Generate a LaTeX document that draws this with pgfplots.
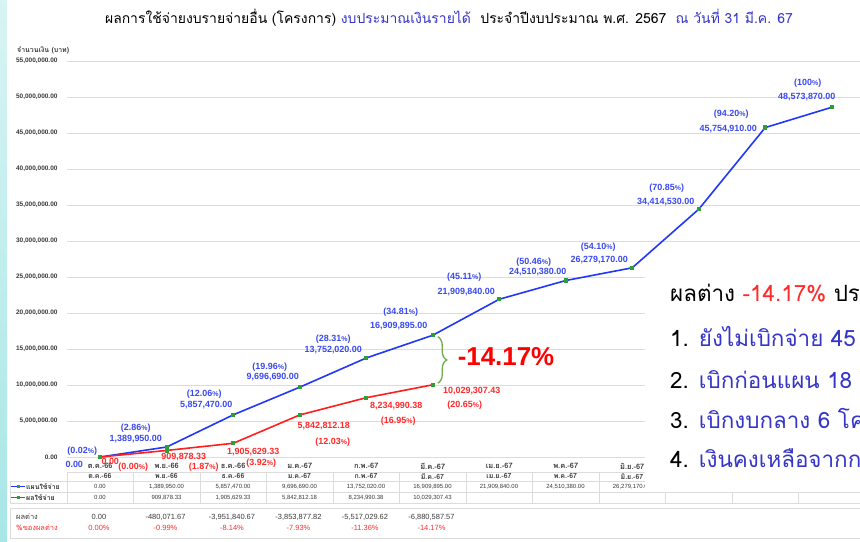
\documentclass[border=0pt]{standalone}
\usepackage{pgfplots}
\pgfplotsset{compat=1.18}
\usepackage{pgfplotstable}
\usepackage{fontspec}
\setmainfont{Liberation Sans}
\newfontfamily\thai[Script=Thai]{Loma}
\usetikzlibrary{decorations.pathreplacing}
\definecolor{pblue}{HTML}{2238F8}
\definecolor{lblue}{HTML}{3A4AEF}
\definecolor{pred}{HTML}{FF1E1E}
\definecolor{lred}{HTML}{FF2B2B}
\definecolor{mgreen}{HTML}{2E9E3A}
\definecolor{bgreen}{HTML}{70AD47}
\definecolor{tblue}{HTML}{3535C8}
\definecolor{gridc}{HTML}{DCDCDC}
\definecolor{txt}{HTML}{3A3A3A}
\definecolor{stripA}{HTML}{D8F4F4}
\definecolor{stripB}{HTML}{A8E6E6}
\newcommand\fs[1]{\fontsize{#1}{#1}\selectfont}

% plan (blue): x, value, percent label, value label, offsets (bp) of the two labels
\pgfplotstableread{
x y pct lab pdx pdy vdx vdy
0 0 0.02 0.00 -18 6 -26 -7
1 1389950 2.86 1,389,950.00 -31 19 -31 8
2 5857470 12.06 5,857,470.00 -29 21 -27 10
3 9696690 19.96 9,696,690.00 -30 20 -27 10
4 13752020 28.31 13,752,020.00 -33 19 -33 8
5 16909895 34.81 16,909,895.00 -32 23 -34 9
6 21909840 45.11 21,909,840.00 -35 22 -33 7
7 24510380 50.46 24,510,380.00 -32 18 -28 8
8 26279170 54.10 26,279,170.00 -34 21 -33 8
9 34414530 70.85 34,414,530.00 -32 21 -33 7
10 45754910 94.20 45,754,910.00 -34 13 -37 -1
11 48573870 100 48,573,870.00 -24 24 -25 10
}\plandata

% actual (red)
\pgfplotstableread{
x y pct lab pdx pdy vdx vdy
0 0 0.00 0.00 33 -10 10 -4
1 909878.33 1.87 909,878.33 37 -17 17 -7
2 1905629.33 3.92 1,905,629.33 28 -20 20 -9
3 5842812.18 12.03 5,842,812.18 33 -27 24 -11
4 8234990.38 16.95 8,234,990.38 32 -23 30 -8
5 10029307.43 20.65 10,029,307.43 32 -20 39 -6
}\actdata

\begin{document}
\begin{tikzpicture}
\useasboundingbox (0,0) rectangle (860bp,542bp);
\clip (0,0) rectangle (860bp,542bp);
\fill[white] (0,0) rectangle (860bp,542bp);
\begin{scope}[x=1bp,y=-1bp,shift={(0bp,542bp)}]
  \shade[top color=stripA, bottom color=stripB] (0,0) rectangle (7,542);
  \node[font=\thai\fs{14}, text=black] at (449,18)
    {ผลการใช้จ่ายงบรายจ่ายอื่น (โครงการ) \textcolor{tblue}{งบประมาณเงินรายได้}\ \ ประจำปีงบประมาณ พ.ศ. 2567\ \ \textcolor{tblue}{ณ วันที่ 31 มี.ค. 67}};
  \node[anchor=west, font=\thai\fs{7}\bfseries, text=txt, inner sep=0pt] at (17,50) {จำนวนเงิน (บาท)};
\end{scope}

\begin{axis}[
  at={(67bp,85bp)}, anchor=south west,
  width=798bp, height=396bp, scale only axis,
  xmin=-0.5, xmax=11.5, ymin=0, ymax=55000000,
  axis line style={draw=none},
  major tick length=0pt,
  ymajorgrids, grid style={gridc, line width=0.9bp},
  ytick={0,5000000,10000000,15000000,20000000,25000000,30000000,35000000,40000000,45000000,50000000,55000000},
  scaled y ticks=false,
  /pgf/number format/assume math mode=true,
  yticklabel={\pgfmathprintnumber[fixed,fixed zerofill,precision=2,1000 sep={,}]{\tick}},
  yticklabel style={font=\fs{6.5}\bfseries, text=txt, anchor=east, xshift=-6bp},
  xtick={0,1,2,3,4,5,6,7,8},
  xticklabels={ต.ค.-66,พ.ย.-66,ธ.ค.-66,ม.ค.-67,ก.พ.-67,มี.ค.-67,เม.ย.-67,พ.ค.-67,มิ.ย.-67},
  xticklabel style={font=\thai\fs{7.5}\bfseries, text=txt, anchor=center, yshift=-9bp},
  clip=false,
]
\addplot[pblue, line width=1.6bp, mark=square*, mark size=1.3bp, mark options={fill=mgreen, draw=mgreen}]
  table[x=x,y=y]{\plandata};
\addplot[pred, line width=1.6bp, mark=square*, mark size=1.3bp, mark options={fill=mgreen, draw=mgreen}]
  table[x=x,y=y]{\actdata};

% blue labels
\addplot[draw=none, mark=none, point meta=explicit symbolic,
  visualization depends on={\thisrow{pdx} \as \dx},
  visualization depends on={\thisrow{pdy} \as \dy},
  nodes near coords={(\pgfplotspointmeta{\fs{7}\%})},
  nodes near coords style={font=\fs{9}\bfseries, text=lblue, anchor=center, inner sep=0pt, xshift=\dx bp, yshift=\dy bp}]
  table[x=x,y=y,meta=pct]{\plandata};
\addplot[draw=none, mark=none, point meta=explicit symbolic,
  visualization depends on={\thisrow{vdx} \as \dx},
  visualization depends on={\thisrow{vdy} \as \dy},
  nodes near coords={\pgfplotspointmeta},
  nodes near coords style={font=\fs{9}\bfseries, text=lblue, anchor=center, inner sep=0pt, xshift=\dx bp, yshift=\dy bp}]
  table[x=x,y=y,meta=lab]{\plandata};
% red labels
\addplot[draw=none, mark=none, point meta=explicit symbolic,
  visualization depends on={\thisrow{pdx} \as \dx},
  visualization depends on={\thisrow{pdy} \as \dy},
  nodes near coords={(\pgfplotspointmeta{\fs{7}\%})},
  nodes near coords style={font=\fs{9}\bfseries, text=lred, anchor=center, inner sep=0pt, xshift=\dx bp, yshift=\dy bp}]
  table[x=x,y=y,meta=pct]{\actdata};
\addplot[draw=none, mark=none, point meta=explicit symbolic,
  visualization depends on={\thisrow{vdx} \as \dx},
  visualization depends on={\thisrow{vdy} \as \dy},
  nodes near coords={\pgfplotspointmeta},
  nodes near coords style={font=\fs{9}\bfseries, text=lred, anchor=center, inner sep=0pt, xshift=\dx bp, yshift=\dy bp}]
  table[x=x,y=y,meta=lab]{\actdata};

\draw[decorate, decoration={brace, amplitude=9bp}, draw=bgreen, line width=1.3bp]
  ([xshift=5bp]axis cs:5,16700000) -- ([xshift=5bp]axis cs:5,10250000);
\end{axis}

\begin{scope}[x=1bp,y=-1bp,shift={(0bp,542bp)}]
  \node[font=\fs{26}\bfseries, text=red] at (506,357) {-14.17\%};
  % data table grid
  \draw[gridc, line width=0.8bp] (67,472) -- (866,472);
  \draw[gridc, line width=0.8bp] (10,481) -- (866,481);
  \draw[gridc, line width=0.8bp] (10,492) -- (866,492);
  \draw[gridc, line width=0.8bp] (10,503) -- (866,503);
  \draw[gridc, line width=0.8bp] (10,481) -- (10,503);
  \foreach \k in {0,...,12} {
    \draw[gridc, line width=0.8bp] ({67+66.5*\k},472) -- ({67+66.5*\k},503);
  }
  \foreach \t [count=\i from 0] in {ต.ค.-66,พ.ย.-66,ธ.ค.-66,ม.ค.-67,ก.พ.-67,มี.ค.-67,เม.ย.-67,พ.ค.-67,มิ.ย.-67} {
    \node[font=\thai\fs{7}\bfseries, text=txt, inner sep=0pt] at ({100+66.5*\i},476.5) {\t};
  }
  \foreach \v [count=\i from 0] in {0.00,{1,389,950.00},{5,857,470.00},{9,696,690.00},{13,752,020.00},{16,909,895.00},{21,909,840.00},{24,510,380.00},{26,279,170.00}} {
    \node[font=\fs{6}, text=txt, inner sep=0pt] at ({100+66.5*\i},486.5) {\v};
  }
  \foreach \v [count=\i from 0] in {0.00,{909,878.33},{1,905,629.33},{5,842,812.18},{8,234,990.38},{10,029,307.43}} {
    \node[font=\fs{6}, text=txt, inner sep=0pt] at ({100+66.5*\i},497.5) {\v};
  }
  % legend cells
  \draw[pblue, line width=1.3bp] (11,486.5) -- (25,486.5);
  \fill[mgreen] (16.5,485) rectangle (19.5,488);
  \node[anchor=west, font=\thai\fs{7}\bfseries, text=txt, inner sep=0pt] at (26,486.5) {แผนใช้จ่าย};
  \draw[pred, line width=1.3bp] (11,497.5) -- (25,497.5);
  \fill[mgreen] (16.5,496) rectangle (19.5,499);
  \node[anchor=west, font=\thai\fs{7}\bfseries, text=txt, inner sep=0pt] at (26,497.5) {ผลใช้จ่าย};

  % bottom difference box
  \draw[gridc, line width=0.8bp] (10,508) rectangle (866,538);
  \node[anchor=west, font=\thai\fs{7.5}, text=txt, inner sep=0pt] at (16,517) {ผลต่าง};
  \node[anchor=west, font=\thai\fs{7.5}, text=lred, inner sep=0pt] at (16,527.5) {\%ของผลต่าง};
  \foreach \v [count=\i from 0] in {0.00,{-480,071.67},{-3,951,840.67},{-3,853,877.82},{-5,517,029.62},{-6,880,587.57}} {
    \node[font=\fs{7.5}, text=txt, inner sep=0pt] at ({99+66.5*\i},517) {\v};
  }
  \foreach \v [count=\i from 0] in {0.00\%,-0.99\%,-8.14\%,-7.93\%,-11.36\%,-14.17\%} {
    \node[font=\fs{7.5}, text=lred, inner sep=0pt] at ({99+66.5*\i},527.5) {\v};
  }

  % white text box on the right
  \fill[white] (645,258) rectangle (866,492);
  \node[anchor=west, font=\thai\fs{22.5}, text=black, inner sep=0pt] at (670,293) {ผลต่าง \textcolor{lred}{-14.17\%} ปร};
  \node[anchor=west, font=\thai\fs{22.5}, text=black, inner sep=0pt] at (670,336) {1. \textcolor{tblue}{ยังไม่เบิกจ่าย 45 โ}};
  \node[anchor=west, font=\thai\fs{22.5}, text=black, inner sep=0pt] at (670,378) {2. \textcolor{tblue}{เบิกก่อนแผน 18 โ}};
  \node[anchor=west, font=\thai\fs{22.5}, text=black, inner sep=0pt] at (670,418) {3. \textcolor{tblue}{เบิกงบกลาง 6 โค}};
  \node[anchor=west, font=\thai\fs{22.5}, text=black, inner sep=0pt] at (670,458) {4. \textcolor{tblue}{เงินคงเหลือจากกา}};
\end{scope}
\end{tikzpicture}
\end{document}
